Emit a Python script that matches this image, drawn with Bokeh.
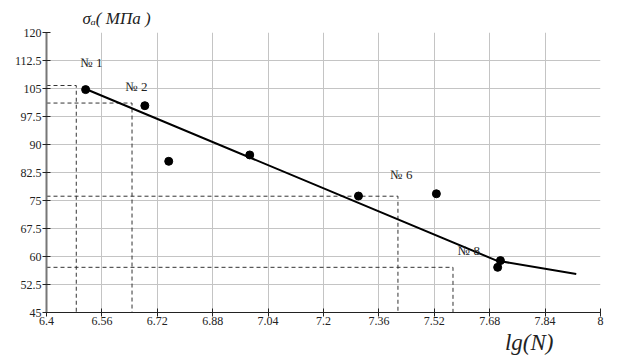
from bokeh.plotting import figure
from bokeh.models import Range1d, FixedTicker, Title
from bokeh.embed import file_html
from bokeh.resources import INLINE

# Data
pts_x = [6.513, 6.684, 6.753, 6.987, 7.301, 7.526, 7.711, 7.703]
pts_y = [104.7, 100.4, 85.5, 87.2, 76.2, 76.8, 58.9, 57.1]

fit_x = [6.515, 7.70, 7.93]
fit_y = [104.8, 58.9, 55.3]

guide_x = [6.486, 6.647, 7.415, 7.574]
guide_y = [105.8, 101.1, 76.15, 57.1]

note_text = ["№ 1", "№ 2", "№ 6", "№ 8"]
note_x = [6.53, 6.66, 7.425, 7.62]
note_y = [112.0, 105.5, 82.0, 61.6]

x_ticks = [6.4, 6.56, 6.72, 6.88, 7.04, 7.2, 7.36, 7.52, 7.68, 7.84, 8.0]
x_tick_labels = ["6.4", "6.56", "6.72", "6.88", "7.04", "7.2", "7.36", "7.52", "7.68", "7.84", "8"]
y_ticks = [45, 52.5, 60, 67.5, 75, 82.5, 90, 97.5, 105, 112.5, 120]
y_tick_labels = ["45", "52.5", "60", "67.5", "75", "82.5", "90", "97.5", "105", "112.5", "120"]

y_title = "σₐ( МПа )"
x_title = "lg(N)"

X0, X1 = 6.4, 8.0
Y0, Y1 = 45, 120

SERIF = "Liberation Serif"

p = figure(width=626, height=356, output_backend="svg", toolbar_location=None,
           x_range=Range1d(X0, X1), y_range=Range1d(Y0, Y1),
           min_border_left=46, min_border_right=26, min_border_top=32, min_border_bottom=44)
p.outline_line_color = None
p.background_fill_color = "white"
p.border_fill_color = "white"

p.add_layout(Title(text=y_title, align="left", offset=36, standoff=9,
                   text_font=SERIF, text_font_size="17px", text_font_style="italic",
                   text_color="#222222"), "above")
p.add_layout(Title(text=x_title, align="right", offset=47, standoff=0,
                   text_font=SERIF, text_font_size="23px", text_font_style="italic",
                   text_color="#222222"), "below")

p.xaxis.ticker = FixedTicker(ticks=x_ticks)
p.yaxis.ticker = FixedTicker(ticks=y_ticks)
p.xaxis.major_label_overrides = {t: l for t, l in zip(x_ticks, x_tick_labels)}
p.yaxis.major_label_overrides = {t: l for t, l in zip(y_ticks, y_tick_labels)}
for ax in (p.xaxis, p.yaxis):
    ax.minor_tick_line_color = None
    ax.major_tick_in = 4
    ax.major_tick_out = 4
    ax.axis_line_color = "#222222"
    ax.major_tick_line_color = "#222222"
    ax.major_label_text_font = SERIF
    ax.major_label_text_font_size = "12px"
    ax.major_label_text_color = "#222222"
p.yaxis.axis_line_color = "#777777"
p.yaxis.axis_line_width = 2
p.xaxis.major_label_standoff = 0
p.yaxis.major_label_standoff = 1

p.xgrid.grid_line_color = "#c4c4c4"
p.ygrid.grid_line_color = "#c4c4c4"
p.xgrid.grid_line_width = 1
p.ygrid.grid_line_width = 1

# dashed guide lines
gxs = [[X0, gx, gx] for gx in guide_x]
gys = [[gy, gy, Y0] for gy in guide_y]
p.multi_line(gxs, gys, line_color="#333333", line_dash="4 3", line_width=1)

# fitted curve
p.line(fit_x, fit_y, line_color="black", line_width=2)

# points
p.scatter(pts_x, pts_y, size=8, color="black")

# point notes
p.text(x=note_x, y=note_y, text=note_text, text_font={"value": SERIF},
       text_font_size="13px", text_align="center", text_baseline="middle",
       text_color="#222222")

open("out.html", "w").write(file_html(p, INLINE))
